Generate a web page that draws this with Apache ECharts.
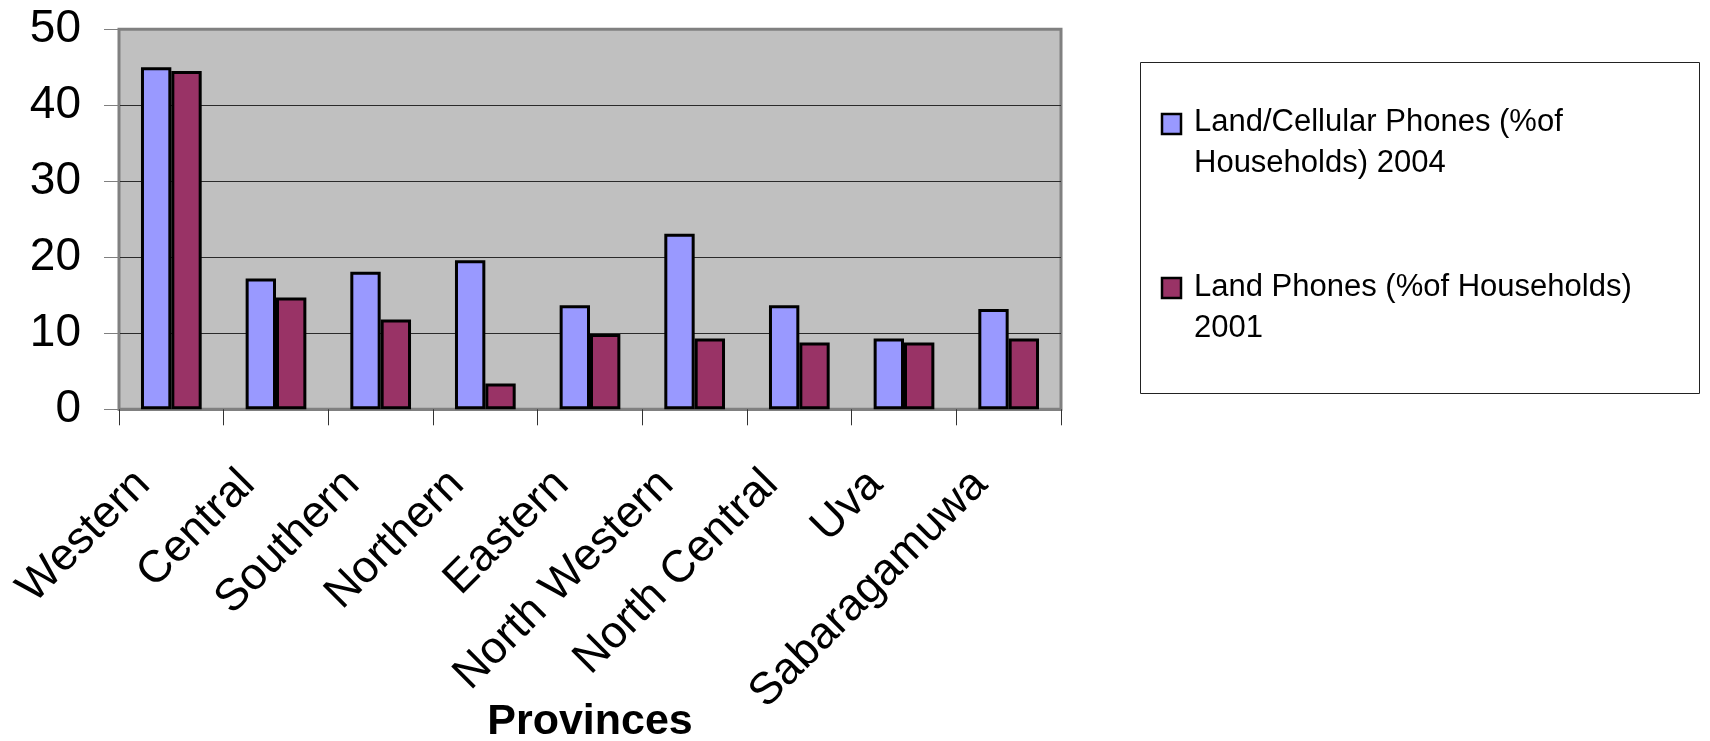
<!DOCTYPE html>
<html>
<head>
<meta charset="utf-8">
<script src="https://cdn.jsdelivr.net/npm/echarts@6/dist/echarts.min.js"></script>
<style>
html,body{margin:0;padding:0;background:#fff;}
#c{width:1710px;height:741px;}
</style>
</head>
<body>
<div id="c"></div>
<script>
const provinces = ['Western','Central','Southern','Northern','Eastern','North Western','North Central','Uva','Sabaragamuwa'];
const seriesNames = ['Land/Cellular Phones (%of Households) 2004','Land Phones (%of Households) 2001'];
const legendLines = [['Land/Cellular Phones (%of','Households) 2004'],['Land Phones (%of Households)','2001']];
const phones2004 = [45.0, 17.2, 18.1, 19.6, 13.7, 23.1, 13.7, 9.3, 13.2];
const landPhones2001 = [44.5, 14.7, 11.8, 3.4, 9.9, 9.3, 8.8, 8.8, 9.3];
const yTicks = [0, 10, 20, 30, 40, 50];
const xTitle = 'Provinces';

const FONT = '"Liberation Sans", Arial, sans-serif';
const colors = ['#9999FF', '#993366'];

const chart = echarts.init(document.getElementById('c'));

function legendGraphics() {
  const g = [{
    type: 'rect', shape: {x: 1140.5, y: 62.5, width: 559, height: 331},
    style: {fill: '#fff', stroke: '#222', lineWidth: 1}, z: 10
  }];
  const tops = [101.5, 266.5];
  const sq = [114, 278];
  for (let i = 0; i < 2; i++) {
    g.push({
      type: 'rect', shape: {x: 1162, y: sq[i], width: 19, height: 20},
      style: {fill: colors[i], stroke: '#000', lineWidth: 2.5}, z: 11
    });
    g.push({
      type: 'text', x: 1194, y: tops[i], z: 11,
      style: {text: legendLines[i].join('\n'), font: '31px ' + FONT, fill: '#000',
              lineHeight: 41, verticalAlign: 'top', align: 'left'}
    });
  }
  return g;
}

chart.setOption({
  animation: false,
  backgroundColor: '#fff',
  grid: {
    left: 119, right: 649, top: 29.3, bottom: 331.7,
    containLabel: false, outerBoundsMode: 'none',
    show: true, backgroundColor: '#C0C0C0', borderColor: '#808080', borderWidth: 3
  },
  xAxis: {
    type: 'category',
    data: provinces,
    axisLine: {show: true, lineStyle: {color: '#808080', width: 2}},
    axisTick: {show: true, interval: 0, length: 16, lineStyle: {color: '#333', width: 1}},
    axisLabel: {
      interval: 0, rotate: 45, fontSize: 45, fontFamily: FONT, color: '#000',
      margin: 40, padding: [0, 40, 0, 0]
    },
    name: xTitle,
    nameLocation: 'middle',
    nameGap: 291,
    nameMoveOverlap: false,
    nameTextStyle: {fontSize: 43, fontWeight: 'bold', fontFamily: FONT, color: '#000'}
  },
  yAxis: {
    type: 'value',
    min: yTicks[0], max: yTicks[yTicks.length - 1], interval: yTicks[1] - yTicks[0],
    axisLine: {show: true, lineStyle: {color: '#808080', width: 2}},
    axisTick: {show: true, length: 15, lineStyle: {color: '#808080', width: 1}},
    axisLabel: {fontSize: 46, fontFamily: FONT, color: '#000', margin: 38},
    splitLine: {show: true, showMinLine: false, showMaxLine: false, lineStyle: {color: '#2a2a2a', width: 1}}
  },
  series: [
    {
      name: seriesNames[0], type: 'bar', data: phones2004,
      barGap: '0%', barCategoryGap: '42%',
      itemStyle: {color: colors[0], borderColor: '#000', borderWidth: 3}
    },
    {
      name: seriesNames[1], type: 'bar', data: landPhones2001,
      barGap: '0%', barCategoryGap: '42%',
      itemStyle: {color: colors[1], borderColor: '#000', borderWidth: 3}
    }
  ],
  graphic: legendGraphics()
});
</script>
</body>
</html>
